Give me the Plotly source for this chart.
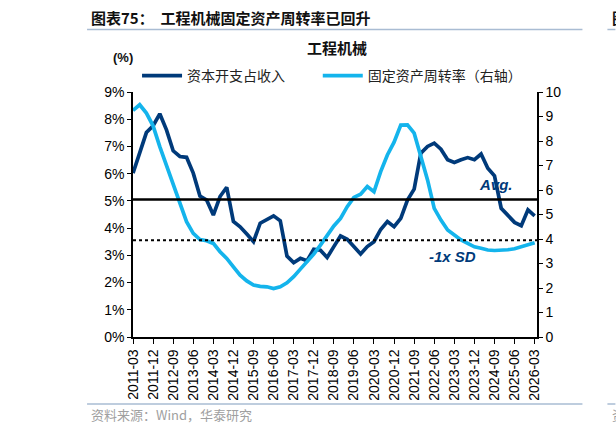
import plotly.graph_objects as go

# Quarterly categories 2011-03 ... 2026-03
quarters = [f"{y}-{m:02d}" for y in range(2011, 2027) for m in (3, 6, 9, 12)][:61]

# 资本开支占收入 (%), left axis
capex_ratio = [6.02, 6.75, 7.51, 7.76, 8.2, 7.61, 6.84, 6.63, 6.6, 6.02,
               5.18, 5.03, 4.48, 5.16, 5.5, 4.24, 4.05, 3.78, 3.5, 4.18,
               4.3, 4.45, 4.27, 2.97, 2.73, 2.89, 2.8, 3.22, 3.19, 2.92,
               3.32, 3.71, 3.59, 3.32, 3.05, 3.32, 3.5, 3.95, 4.24, 4.05,
               4.36, 5.03, 5.43, 6.75, 7.0, 7.12, 6.9, 6.51, 6.41, 6.51,
               6.59, 6.51, 6.72, 6.2, 5.92, 4.73, 4.45, 4.21, 4.09, 4.67, 4.45]

# 固定资产周转率 (right axis)
fa_turnover = [9.25, 9.48, 9.14, 8.62, 7.77, 7.03, 6.28, 5.46, 4.71, 4.23,
               3.98, 3.93, 3.82, 3.48, 3.21, 2.86, 2.52, 2.29, 2.12, 2.07,
               2.05, 1.98, 2.05, 2.21, 2.46, 2.77, 3.07, 3.38, 3.75, 4.16,
               4.53, 4.84, 5.32, 5.7, 5.83, 6.14, 5.93, 6.75, 7.43, 7.95,
               8.65, 8.66, 8.32, 7.37, 6.41, 5.25, 4.77, 4.37, 4.16, 3.96,
               3.82, 3.68, 3.62, 3.55, 3.53, 3.53, 3.56, 3.6, 3.68, 3.78, 3.85]

avg_level = 5.05
sd_level = 3.55

tick_labels = quarters[::3]
left_ticks = [0, 1, 2, 3, 4, 5, 6, 7, 8, 9]
right_ticks = [0, 1, 2, 3, 4, 5, 6, 7, 8, 9, 10]

DARK = "#003A7A"
LIGHT = "#14B4EC"
CJK = "Noto Sans CJK SC"
NUM = "Arial, Liberation Sans, sans-serif"

fig = go.Figure()
fig.add_trace(go.Scatter(x=quarters, y=capex_ratio, name="资本开支占收入",
                         mode="lines", line=dict(color=DARK, width=3.7),
                         yaxis="y", legend="legend"))
fig.add_trace(go.Scatter(x=quarters, y=fa_turnover, name="固定资产周转率（右轴）",
                         mode="lines", line=dict(color=LIGHT, width=3.7),
                         yaxis="y2", legend="legend2"))

# avg and -1 SD lines
fig.add_shape(type="line", xref="paper", yref="y", x0=0, x1=1,
              y0=avg_level, y1=avg_level, line=dict(color="black", width=2.5))
fig.add_shape(type="line", xref="paper", yref="y", x0=0, x1=1,
              y0=sd_level, y1=sd_level, line=dict(color="black", width=2, dash="dot"))

leg_common = dict(orientation="h", xanchor="left", y=1.065, yanchor="middle",
                  font=dict(family=CJK, size=14, color="#222"),
                  bgcolor="rgba(0,0,0,0)", itemwidth=40)

fig.update_layout(
    width=616, height=434,
    margin=dict(l=133, r=78.5, t=92, b=97),
    paper_bgcolor="white", plot_bgcolor="white",
    showlegend=True,
    legend=dict(x=0.01, **leg_common),
    legend2=dict(x=(318 - 133) / 404.5, **leg_common),
    xaxis=dict(type="category", range=[0, 60.35], tickmode="array",
               tickvals=tick_labels, ticktext=tick_labels, tickangle=-90,
               ticks="outside", ticklen=5, tickcolor="black",
               showline=True, linecolor="black", linewidth=1.5,
               showgrid=False, zeroline=False,
               tickfont=dict(family=NUM, size=14, color="black")),
    yaxis=dict(range=[0, 9], tickvals=left_ticks,
               ticktext=[f"{v}%" for v in left_ticks],
               ticks="outside", ticklen=4, tickcolor="black",
               showline=True, linecolor="black", linewidth=1.5,
               showgrid=False, zeroline=False,
               tickfont=dict(family=NUM, size=14, color="black")),
    yaxis2=dict(range=[0, 10], tickvals=right_ticks, overlaying="y", side="right",
                ticks="outside", ticklen=4, tickcolor="black",
                showline=True, linecolor="black", linewidth=1.5,
                showgrid=False, zeroline=False,
                tickfont=dict(family=NUM, size=14, color="black")),
)

# Page header / footer decorations
fig.add_annotation(text="<b>图表75：  工程机械固定资产周转率已回升</b>", xref="paper", yref="paper",
                   x=(89 - 133) / 404.5, y=1 + (92 - 18) / 245,
                   xanchor="left", yanchor="middle", showarrow=False,
                   font=dict(family=CJK, size=15, color="#111"))
fig.add_annotation(text="<b>工程机械</b>", xref="paper", yref="paper",
                   x=(337 - 133) / 404.5, y=1 + (92 - 47) / 245,
                   xanchor="center", yanchor="middle", showarrow=False,
                   font=dict(family=CJK, size=15, color="#111"))
fig.add_annotation(text="<b>(%)</b>", xref="paper", yref="paper",
                   x=(123 - 133) / 404.5, y=1 + (92 - 57) / 245,
                   xanchor="center", yanchor="middle", showarrow=False,
                   font=dict(family=NUM, size=13, color="#111"))
fig.add_annotation(text="资料来源：Wind，华泰研究", xref="paper", yref="paper",
                   x=(89 - 133) / 404.5, y=-(414 - 337) / 245,
                   xanchor="left", yanchor="middle", showarrow=False,
                   font=dict(family=CJK, size=13, color="#A0A0A0"))
fig.add_annotation(text="<b><i>Avg.</i></b>", xref="paper", yref="y",
                   x=(496 - 133) / 404.5, y=5.6,
                   xanchor="center", yanchor="middle", showarrow=False,
                   font=dict(family=NUM, size=15, color=DARK))
fig.add_annotation(text="<b><i>-1x SD</i></b>", xref="paper", yref="y",
                   x=(453 - 133) / 404.5, y=2.97,
                   xanchor="center", yanchor="middle", showarrow=False,
                   font=dict(family=NUM, size=15, color=DARK))
# neighbouring chart fragments at right edge (cut off, as in the source page)
fig.add_annotation(text="<b>图</b>", xref="paper", yref="paper",
                   x=(611 - 133) / 404.5, y=1 + (92 - 18) / 245,
                   xanchor="left", yanchor="middle", showarrow=False,
                   font=dict(family=CJK, size=15, color="#111"))
fig.add_annotation(text="资", xref="paper", yref="paper",
                   x=(611 - 133) / 404.5, y=-(414 - 337) / 245,
                   xanchor="left", yanchor="middle", showarrow=False,
                   font=dict(family=CJK, size=13, color="#A0A0A0"))

rule = "#A9BCD3"
for (a, b) in [(87, 583), (608, 616)]:
    for yy in (29.5, 404):
        fig.add_shape(type="line", xref="paper", yref="paper",
                      x0=(a - 133) / 404.5, x1=(b - 133) / 404.5,
                      y0=(337 - yy) / 245, y1=(337 - yy) / 245,
                      line=dict(color=rule, width=1.5))

fig.write_html("out.html")
